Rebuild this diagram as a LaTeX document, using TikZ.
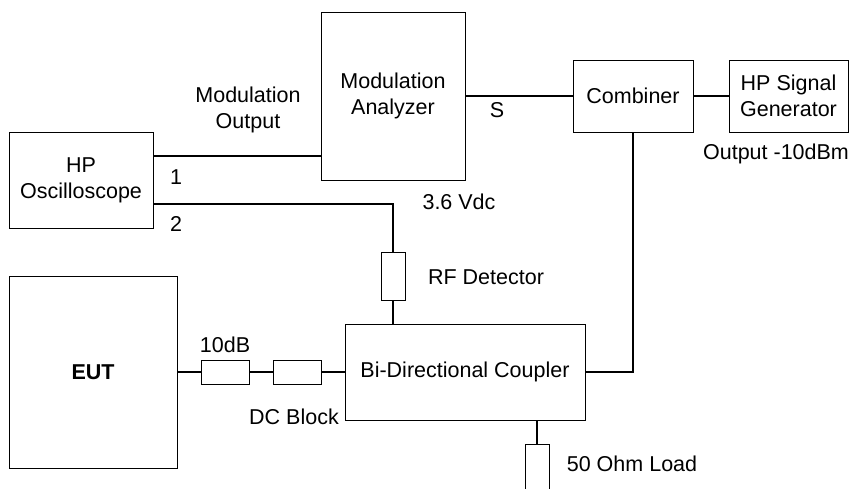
\documentclass[tikz,border=0pt]{standalone}
\usepackage{fontspec}
\setmainfont{Liberation Sans}
\begin{document}
\begin{tikzpicture}[x=1pt,y=-1pt,
  every node/.style={font=\fontsize{21.5}{26}\selectfont},
  box/.style={draw=black,line width=0.8pt,inner sep=0pt,align=center},
  lbl/.style={inner sep=0pt,align=center},
  wire/.style={line width=1.6pt,black}]
\useasboundingbox (0,0) rectangle (851,489);
% boxes
\node[box,minimum width=144pt,minimum height=96pt] (osc) at (81,180) {HP\\Oscilloscope};
\node[box,minimum width=144pt,minimum height=168pt] (ana) at (393,96) {Modulation\\Analyzer};
\node[box,minimum width=120pt,minimum height=72pt] (comb) at (633,96) {Combiner};
\node[box,minimum width=119pt,minimum height=72pt] (sig) at (788.5,96) {HP Signal\\Generator};
\node[box,minimum width=24pt,minimum height=48pt] (rfd) at (393,276) {};
\node[box,minimum width=168pt,minimum height=192pt] (eut) at (93,372) {\bfseries EUT};
\node[box,minimum width=48pt,minimum height=24pt] (att) at (225,372) {};
\node[box,minimum width=48pt,minimum height=24pt] (dcb) at (297,372) {};
\node[box,minimum width=240pt,minimum height=96pt] (cpl) at (465,372) {Bi-Directional Coupler};
\node[box,minimum width=24pt,minimum height=48pt] (load) at (537,468) {};
% labels
\node[lbl] (lmo) at (248,110) {Modulation\\Output};
\node[lbl] (l1) at (176,177) {1};
\node[lbl] (l2) at (176,224) {2};
\node[lbl] (ls) at (497,110) {S};
\node[lbl] (lv) at (459,202) {3.6 Vdc};
\node[lbl] (lout) at (776,154) {Output -10dBm};
\node[lbl] (lrf) at (486,277) {RF Detector};
\node[lbl] (l10) at (225,345) {10dB};
\node[lbl] (ldc) at (294,417) {DC Block};
\node[lbl] (lload) at (632,464) {50 Ohm Load};
% wires
\draw[wire] ([yshift=24pt]osc.east) -- ([yshift=-60pt]ana.west);
\draw[wire] ([yshift=-24pt]osc.east) -| (rfd.north);
\draw[wire] (rfd.south) -- (rfd.south |- cpl.north);
\draw[wire] (ana.east) -- (comb.west);
\draw[wire] (comb.east) -- (sig.west);
\draw[wire] (comb.south) |- (cpl.east);
\draw[wire] (eut.east) -- (att.west);
\draw[wire] (att.east) -- (dcb.west);
\draw[wire] (dcb.east) -- (cpl.west);
\draw[wire] (load.north |- cpl.south) -- (load.north);
\end{tikzpicture}
\end{document}
